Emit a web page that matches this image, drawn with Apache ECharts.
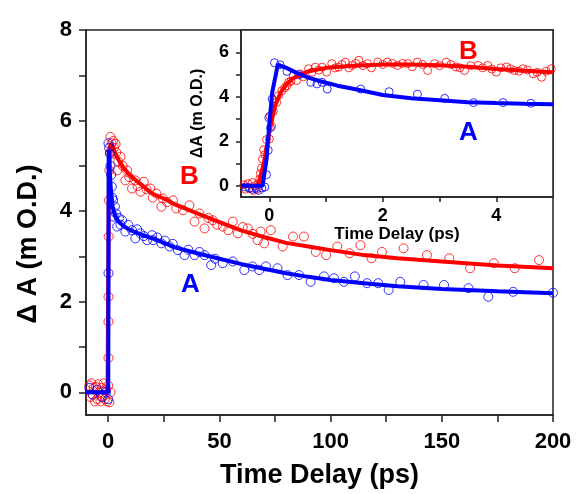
<!DOCTYPE html>
<html>
<head>
<meta charset="utf-8">
<script src="https://cdn.jsdelivr.net/npm/echarts@6/dist/echarts.min.js"></script>
<style>html,body{margin:0;padding:0;background:#fff}#c{width:579px;height:494px}</style>
</head>
<body>
<div id="c"></div>
<script>
// ---------- Main panel data (time in ps, ΔA in mO.D.) ----------
const mainB_pts = [
 [-8.5,0.15],[-8,-0.1],[-7.5,0.2],[-7,-0.05],[-6.5,0.1],[-6,-0.2],[-5.5,0.12],[-5,-0.15],[-4.5,0.18],[-4,0.0],
 [-3.5,-0.2],[-3,0.1],[-2.5,-0.1],[-2,0.2],[-1.5,-0.15],[-1,0.05],[-0.5,-0.2],[0,0.15],[0.5,-0.22],[1,0.0],
 [0.1,0.76],[0.1,1.56],[0.1,2.11],[0.2,3.44],[0.3,4.24],[0.5,4.9],[0.8,5.3],[1,5.64],[1.5,5.5],[1.8,5.27],
 [2.2,5.55],[2.6,5.4],[3.3,5.49],[3.6,5.3],[4,4.9],[4.5,5.1],[5.5,5.2],[6.5,5.0],[7.7,4.68],[8.5,4.9],
 [9.5,4.75],[10.7,4.5],[12.2,4.68],[13.2,4.55],[14.5,4.43],[16,4.65],[17.2,4.48],[18.9,4.5],[20,4.3],[21.6,4.39],
 [23.9,4.10],[24.6,4.28],[26.5,4.2],[29.1,4.24],[30.6,4.06],[33.6,4.02],[36.5,4.13],[38.8,3.77],[41,3.95],[43.3,3.62],
 [45,3.85],[47,3.80],[49,3.7],[51.5,3.66],[54,3.58],[56,3.77],[58.2,3.51],[60.5,3.65],[62.7,3.62],[65,3.5],
 [67.2,3.36],[68.5,3.55],[70.1,3.29],[73.1,3.58],[78.4,3.22],[83.1,3.44],[88,3.44],[93.3,3.1],[98,3.03],[103,3.22],
 [108.5,3.07],[113.4,3.25],[118.4,2.96],[123.1,3.1],[132.8,3.18],[143.3,3.03],[153.4,2.96],[162.7,2.74],[173.4,2.85],[182.8,2.74],
 [193.7,2.92]
];
const mainA_pts = [
 [-8.5,0.1],[-7,-0.05],[-5,0.05],[-3,-0.1],[-1,0.0],[0,-0.15],
 [0.1,2.63],[0.1,5.5],[0.4,5.4],[0.7,5.27],[1,5.0],[1.3,4.8],[1.6,4.54],[1.8,4.3],[2.2,4.24],[2.5,3.88],
 [3,4.1],[3.5,3.95],[4,3.66],[4.8,3.85],[5.5,3.7],[6.3,3.80],[7.7,3.55],[9,3.7],[10.7,3.58],[12.2,3.40],
 [13,3.6],[14.5,3.51],[16,3.45],[17.5,3.36],[19.7,3.47],[20.2,3.36],[22,3.42],[23.9,3.29],[25.5,3.35],[27.6,3.22],
 [29,3.28],[31.3,3.14],[34.3,3.03],[36,3.15],[38.8,3.03],[41,3.1],[43.3,3.03],[46.3,2.81],[48,2.95],[51.5,2.85],
 [56,2.89],[61.2,2.70],[64.9,2.78],[67.9,2.70],[70.9,2.78],[76.1,2.74],[80.6,2.59],[85.8,2.59],[91,2.44],[97,2.56],
 [101.5,2.52],[106,2.44],[110.9,2.56],[116.4,2.41],[121.4,2.41],[126.1,2.26],[131.3,2.44],[141.8,2.37],[151,2.37],[162,2.30],
 [170.9,2.11],[182.1,2.22],[200,2.2]
];
const mainB_fit = [
 [-10,0],[-0.3,0],[0.3,4.8],[1,5.5],[2,5.45],[3,5.3],[5,5.1],[7,4.95],[10,4.78],[15,4.58],[20,4.38],[25,4.28],
 [30,4.15],[40,3.95],[50,3.76],[60,3.57],[70,3.43],[80,3.3],[90,3.22],[100,3.14],[115,3.03],[130,2.96],[150,2.89],[175,2.8],[200,2.74]
];
const mainA_fit = [
 [-10,0],[0,0],[0.2,5.35],[0.6,5.0],[1,4.6],[1.5,4.3],[2,4.1],[3,3.9],[5,3.75],[7.5,3.65],[10,3.58],[15,3.48],
 [20,3.4],[30,3.2],[40,3.07],[50,2.95],[60,2.83],[70,2.73],[80,2.63],[90,2.55],[100,2.48],[115,2.41],[130,2.34],[150,2.28],[175,2.23],[200,2.19]
];
// ---------- Inset panel data ----------
const insetB_pts = [
 [-0.45,0.05],[-0.42,-0.15],[-0.38,0.1],[-0.35,-0.1],[-0.3,0.15],[-0.28,-0.2],[-0.25,0.0],[-0.22,-0.15],[-0.2,0.1],[-0.17,0.3],
 [-0.16,0.56],[-0.14,0.79],[-0.12,1.2],[-0.1,1.62],[-0.08,1.4],[-0.05,2.08],[0.0,2.1],[0.01,3.14],[0.04,2.68],[0.07,3.36],
 [0.13,3.75],[0.16,4.05],[0.22,4.27],[0.27,4.4],[0.31,4.5],[0.34,4.65],[0.38,4.7],[0.42,4.95],[0.48,4.73],[0.54,5.03],
 [0.6,4.9],[0.69,5.26],[0.75,5.1],[0.81,5.33],[0.87,5.2],[0.93,5.33],[1.01,5.11],[1.1,5.49],[1.16,5.3],[1.22,5.33],
 [1.28,5.45],[1.34,5.56],[1.4,5.3],[1.46,5.41],[1.52,5.5],[1.58,5.64],[1.65,5.4],[1.73,5.49],[1.8,5.3],[1.91,5.56],
 [2.0,5.45],[2.08,5.56],[2.17,5.5],[2.26,5.41],[2.35,5.5],[2.44,5.49],[2.52,5.35],[2.61,5.56],[2.7,5.45],[2.79,5.18],
 [2.91,5.49],[3.0,5.4],[3.12,5.56],[3.2,5.45],[3.29,5.34],[3.36,5.3],[3.44,5.18],[3.55,5.4],[3.68,5.41],[3.76,5.3],
 [3.85,5.41],[3.92,5.25],[4.0,5.11],[4.08,5.3],[4.18,5.34],[4.25,5.25],[4.32,5.18],[4.4,5.15],[4.47,5.26],[4.55,5.2],
 [4.65,5.03],[4.72,5.1],[4.8,4.88],[4.88,5.15],[4.97,5.26]
];
const insetA_pts = [
 [-0.42,-0.05],[-0.35,-0.1],[-0.3,-0.15],[-0.24,-0.1],[-0.19,-0.2],[-0.13,-0.1],[-0.08,-0.05],[-0.05,0.5],[-0.02,1.6],[-0.01,3.06],
 [0.02,2.61],[0.05,3.9],[0.09,5.53],[0.19,5.44],[0.31,5.14],[0.52,4.99],[0.73,4.65],[0.84,4.58],[0.93,4.65],[1.02,4.35],
 [1.61,4.35],[2.11,4.23],[2.61,4.12],[3.09,3.93],[3.6,3.74],[4.12,3.74],[4.61,3.71]
];
const insetB_fit = [
 [-0.5,0],[-0.2,0],[-0.1,1.0],[0,2.4],[0.1,3.6],[0.2,4.2],[0.3,4.55],[0.4,4.8],[0.5,4.95],[0.7,5.15],[1,5.3],
 [1.5,5.4],[2,5.45],[2.5,5.45],[3,5.42],[3.5,5.35],[4,5.25],[4.5,5.17],[5,5.1]
];
const insetA_fit = [
 [-0.5,0],[-0.12,0],[-0.05,1.2],[0,2.8],[0.05,4.2],[0.15,5.45],[0.3,5.3],[0.5,5.05],[0.7,4.85],[0.9,4.7],[1.2,4.5],
 [1.5,4.35],[2,4.08],[2.5,3.93],[3,3.85],[3.5,3.76],[4,3.72],[4.5,3.69],[5,3.67]
];
// ---------- Tick labels ----------
const mainXLabels = [0,50,100,150,200];
const mainXTicks = [0,25,50,75,100,125,150,175,200];
const mainYLabels = [0,2,4,6,8];
const mainYTicks = [0,1,2,3,4,5,6,7,8];
const insetXLabels = [0,2,4];
const insetXTicks = [0,1,2,3,4];
const insetYLabels = [0,2,4,6];
const insetYTicks = [0,1,2,3,4,5,6];

const RED = '#ff0000', BLUE = '#0000ff';
const FONT = '"Liberation Sans", Arial, sans-serif';

function axisCommon(fs, margin) {
  return {
    axisLine: {show: true, onZero: false, lineStyle: {color: '#222', width: 1.5}},
    axisTick: {show: true, inside: false, length: 7, lineStyle: {color: '#222', width: 1.5}},
    splitLine: {show: false},
    axisLabel: {fontFamily: FONT, fontWeight: 'bold', fontSize: fs, color: '#000', margin: margin}
  };
}
function mk(base, extra) {
  const o = Object.assign({}, base, extra);
  o.axisLabel = Object.assign({}, base.axisLabel, extra.axisLabel || {});
  o.axisTick = Object.assign({}, base.axisTick, extra.axisTick || {});
  return o;
}

const chart = echarts.init(document.getElementById('c'), null, {renderer: 'canvas'});
const option = {
  animation: false,
  backgroundColor: '#fff',
  grid: [
    {left: 86, top: 30, width: 467, height: 385, show: true, borderColor: '#222', borderWidth: 1.5, backgroundColor: 'transparent'},
    {left: 241, top: 30, width: 312, height: 167, show: true, borderColor: '#222', borderWidth: 1.5, backgroundColor: '#fff', z: 5}
  ],
  xAxis: [
    mk(axisCommon(22, 16), {type: 'value', gridIndex: 0, min: -10, max: 200,
      axisLabel: {customValues: mainXLabels}, axisTick: {customValues: mainXTicks},
      name: 'Time Delay (ps)', nameLocation: 'middle', nameGap: 47,
      nameTextStyle: {fontFamily: FONT, fontWeight: 'bold', fontSize: 27, color: '#000'}}),
    mk(axisCommon(18, 10), {type: 'value', gridIndex: 1, min: -0.5, max: 5, z: 6,
      axisLabel: {customValues: insetXLabels}, axisTick: {customValues: insetXTicks, length: 5},
      name: 'Time Delay (ps)', nameLocation: 'middle', nameGap: 26,
      nameTextStyle: {fontFamily: FONT, fontWeight: 'bold', fontSize: 17, color: '#000'}})
  ],
  yAxis: [
    mk(axisCommon(22, 14), {type: 'value', gridIndex: 0, min: -0.5, max: 8,
      axisLabel: {customValues: mainYLabels}, axisTick: {customValues: mainYTicks},
      name: 'Δ A (m O.D.)', nameLocation: 'middle', nameGap: 44,
      nameTextStyle: {fontFamily: FONT, fontWeight: 'bold', fontSize: 27, color: '#000', padding: [0, 43, 0, 0]}}),
    mk(axisCommon(18, 12), {type: 'value', gridIndex: 1, min: -0.5, max: 7, z: 6,
      axisLabel: {customValues: insetYLabels}, axisTick: {customValues: insetYTicks, length: 5},
      name: 'ΔA (m O.D.)', nameLocation: 'middle', nameGap: 35,
      nameTextStyle: {fontFamily: FONT, fontWeight: 'bold', fontSize: 16, color: '#000'}})
  ],
  series: [
    {type: 'scatter', xAxisIndex: 0, yAxisIndex: 0, data: mainB_pts, symbol: 'circle', symbolSize: 9,
      itemStyle: {color: 'transparent', borderColor: RED, borderWidth: 1}, z: 2},
    {type: 'line', xAxisIndex: 0, yAxisIndex: 0, data: mainB_fit, showSymbol: false, symbol: 'none',
      lineStyle: {color: RED, width: 4}, z: 3},
    {type: 'scatter', xAxisIndex: 0, yAxisIndex: 0, data: mainA_pts, symbol: 'circle', symbolSize: 9,
      itemStyle: {color: 'transparent', borderColor: BLUE, borderWidth: 1}, z: 3},
    {type: 'line', xAxisIndex: 0, yAxisIndex: 0, data: mainA_fit, showSymbol: false, symbol: 'none',
      lineStyle: {color: BLUE, width: 4}, z: 4},
    {type: 'scatter', xAxisIndex: 1, yAxisIndex: 1, data: insetB_pts, symbol: 'circle', symbolSize: 8,
      itemStyle: {color: 'transparent', borderColor: RED, borderWidth: 1}, z: 7},
    {type: 'scatter', xAxisIndex: 1, yAxisIndex: 1, data: insetA_pts, symbol: 'circle', symbolSize: 8,
      itemStyle: {color: 'transparent', borderColor: BLUE, borderWidth: 1}, z: 7},
    {type: 'line', xAxisIndex: 1, yAxisIndex: 1, data: insetB_fit, showSymbol: false, symbol: 'none',
      lineStyle: {color: RED, width: 4}, z: 8},
    {type: 'line', xAxisIndex: 1, yAxisIndex: 1, data: insetA_fit, showSymbol: false, symbol: 'none',
      lineStyle: {color: BLUE, width: 4}, z: 9}
  ],
  graphic: [
    {type: 'text', left: 180, top: 164, z: 20, style: {text: 'B', fill: RED, font: 'bold 26px ' + FONT}},
    {type: 'text', left: 181, top: 272, z: 20, style: {text: 'A', fill: BLUE, font: 'bold 26px ' + FONT}},
    {type: 'text', left: 459, top: 39, z: 20, style: {text: 'B', fill: RED, font: 'bold 26px ' + FONT}},
    {type: 'text', left: 459, top: 120, z: 20, style: {text: 'A', fill: BLUE, font: 'bold 26px ' + FONT}}
  ]
};
chart.setOption(option);
</script>
</body>
</html>
